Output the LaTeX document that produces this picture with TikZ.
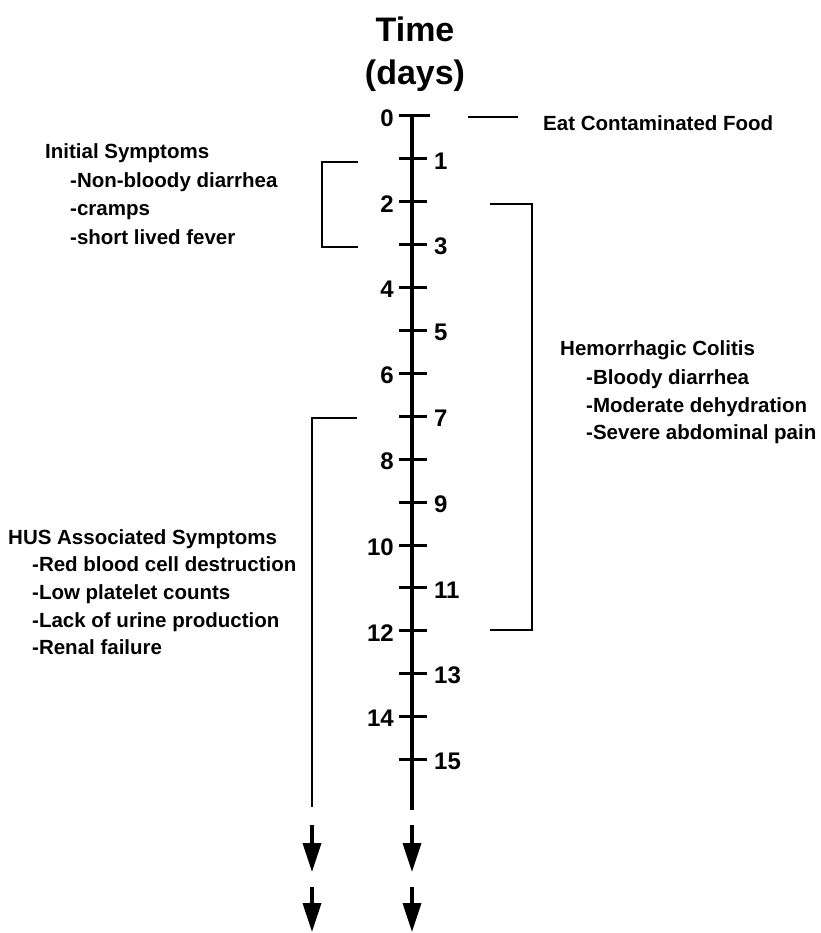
\documentclass[tikz,border=0pt]{standalone}
\usepackage{fontspec}
\setmainfont{Liberation Sans}
\usetikzlibrary{arrows.meta}
\begin{document}
\begin{tikzpicture}[x=1pt,y=-1pt,
  axisline/.style={line width=3.6pt},
  tickline/.style={line width=3pt},
  bracket/.style={line width=2.8pt},
  downarrow/.style={line width=3.4pt,-{Triangle[width=18pt,length=29pt]}},
  numlabel/.style={font=\fontsize{24}{28}\selectfont\bfseries,inner sep=0pt},
  txt/.style={font=\fontsize{20.5}{24}\selectfont\bfseries,inner sep=0pt,anchor=base west},
  titletxt/.style={font=\fontsize{34}{40}\selectfont\bfseries,inner sep=0pt,anchor=base}]
\useasboundingbox (0,0) rectangle (820,933);
% title
\node[titletxt] (time) at (415,42) {Time};
\node[titletxt] (days) at (415,85) {(days)};
% axis
\foreach \n in {0,...,15}{
  \coordinate (t\n) at (412,{116+42.9*\n});
}
\coordinate (axend) at (412,810);
\draw[axisline] (t0) -- (axend);
\draw[tickline] (399,116) -- (430,116);
\foreach \n in {1,...,15}{
  \draw[tickline] ([xshift=-13pt]t\n) -- ([xshift=15pt]t\n);
}
\foreach \n in {0,2,...,14}{
  \node[numlabel,anchor=east] (l\n) at ([xshift=-18pt,yshift=-2pt]t\n) {\n};
}
\foreach \n in {1,3,...,15}{
  \node[numlabel,anchor=west] (l\n) at ([xshift=22pt,yshift=-2pt]t\n) {\n};
}
% eat food
\coordinate (eatA) at (468,117);
\coordinate (eatB) at (518,117);
\draw[bracket] (eatA) -- (eatB);
\node[txt] (eat) at (543,131) {Eat Contaminated Food};
% initial symptoms bracket
\draw[bracket] (358,162) -- (322,162) -- (322,247) -- (358,247);
\node[txt] (init) at (45,159) {Initial Symptoms};
\node[txt] (init1) at (70,188) {-Non-bloody diarrhea};
\node[txt] (init2) at (70,216) {-cramps};
\node[txt] (init3) at (70,244) {-short lived fever};
% hemorrhagic colitis bracket
\draw[bracket] (490,204) -- (532,204) -- (532,630) -- (490,630);
\node[txt] (hc) at (560,355) {Hemorrhagic Colitis};
\node[txt] (hc1) at (586,384) {-Bloody diarrhea};
\node[txt] (hc2) at (586,412) {-Moderate dehydration};
\node[txt] (hc3) at (586,439) {-Severe abdominal pain};
% HUS line
\coordinate (husA) at (357,418);
\coordinate (husC) at (312,418);
\coordinate (husend) at (312,807);
\draw[bracket] (husA) -- (husC) -- (husend);
\node[txt] (hus) at (8,544) {HUS Associated Symptoms};
\node[txt] (hus1) at (32,571) {-Red blood cell destruction};
\node[txt] (hus2) at (32,599) {-Low platelet counts};
\node[txt] (hus3) at (32,627) {-Lack of urine production};
\node[txt] (hus4) at (32,654) {-Renal failure};
% continuation arrows
\coordinate (la1) at (312,825); \coordinate (la1e) at (312,872);
\coordinate (la2) at (312,887); \coordinate (la2e) at (312,932);
\coordinate (ra1) at (412,825); \coordinate (ra1e) at (412,872);
\coordinate (ra2) at (412,887); \coordinate (ra2e) at (412,932);
\draw[downarrow] (la1) -- (la1e);
\draw[downarrow] (la2) -- (la2e);
\draw[downarrow] (ra1) -- (ra1e);
\draw[downarrow] (ra2) -- (ra2e);
\end{tikzpicture}
\end{document}
